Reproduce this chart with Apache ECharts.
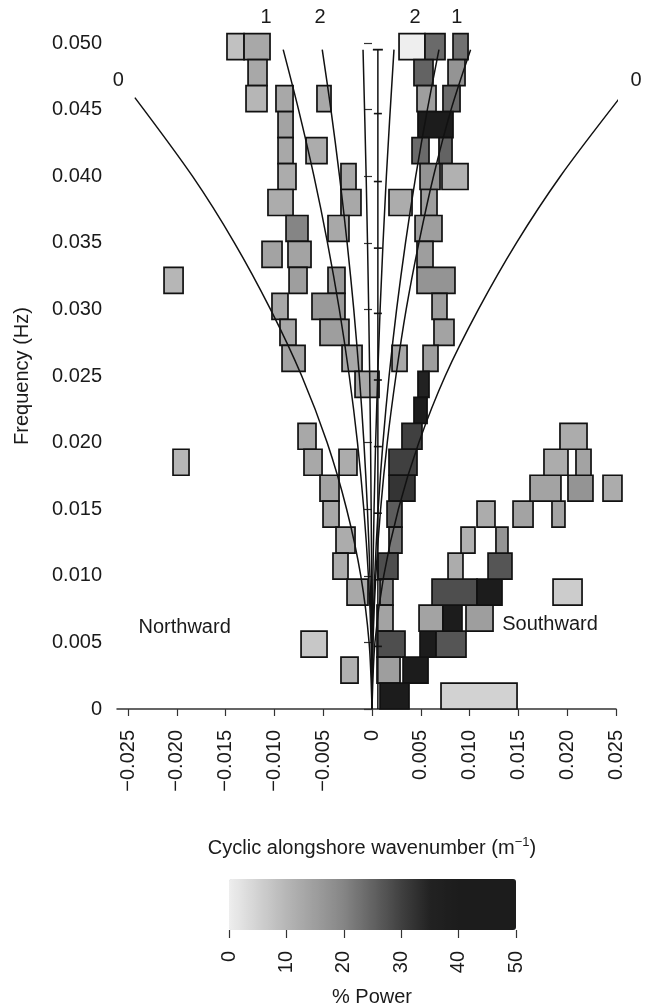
<!DOCTYPE html>
<html>
<head>
<meta charset="utf-8">
<script src="https://cdn.jsdelivr.net/npm/echarts@6/dist/echarts.min.js"></script>
<style>html,body{margin:0;padding:0;background:#fff;}#c{width:650px;height:1008px;}</style>
</head>
<body>
<div id="c"></div>
<script>
// ---------- DATA ----------
// Frequency bin width (Hz) of every spectral cell
const FREQ_BIN = 0.00195;
// cells: [wavenumber low, wavenumber high, frequency low, % power]
const cellsNegativeBranch = [
  [-0.01486, -0.01311, 0.04875, 8], [-0.01311, -0.01045, 0.04875, 13],
  [-0.0127, -0.01076, 0.0468, 13],
  [-0.01291, -0.01076, 0.04485, 10], [-0.00984, -0.00809, 0.04485, 13], [-0.00564, -0.0042, 0.04485, 13],
  [-0.00963, -0.00809, 0.0429, 14],
  [-0.00963, -0.00809, 0.04095, 13], [-0.00676, -0.00461, 0.04095, 12],
  [-0.00963, -0.00779, 0.039, 12], [-0.00318, -0.00164, 0.039, 13],
  [-0.01066, -0.00809, 0.03705, 12], [-0.00318, -0.00113, 0.03705, 13],
  [-0.00881, -0.00656, 0.0351, 20], [-0.00451, -0.00236, 0.0351, 13],
  [-0.01127, -0.00922, 0.03315, 14], [-0.00861, -0.00625, 0.03315, 14],
  [-0.0085, -0.00666, 0.0312, 15], [-0.00451, -0.00277, 0.0312, 16],
  [-0.01025, -0.00861, 0.02925, 13], [-0.00615, -0.00277, 0.02925, 16],
  [-0.00943, -0.00779, 0.0273, 13], [-0.00533, -0.00236, 0.0273, 15],
  [-0.00922, -0.00686, 0.02535, 14], [-0.00307, -0.00102, 0.02535, 13],
  [-0.00174, 0.00072, 0.0234, 13],
  [-0.00758, -0.00574, 0.0195, 13],
  [-0.00697, -0.00512, 0.01755, 13], [-0.00338, -0.00154, 0.01755, 12],
  [-0.00533, -0.00338, 0.0156, 14],
  [-0.00502, -0.00338, 0.01365, 13],
  [-0.00369, -0.00174, 0.0117, 12],
  [-0.004, -0.00246, 0.00975, 12],
  [-0.00256, -0.00041, 0.0078, 13],
  [-0.00318, -0.00143, 0.00195, 11]
];
const cellsPositiveBranch = [
  [0.00277, 0.00543, 0.04875, 0], [0.00543, 0.00748, 0.04875, 24], [0.0083, 0.00984, 0.04875, 23],
  [0.0043, 0.00625, 0.0468, 25], [0.00779, 0.00953, 0.0468, 17],
  [0.00461, 0.00656, 0.04485, 15], [0.00727, 0.00902, 0.04485, 24],
  [0.00471, 0.0083, 0.0429, 45],
  [0.0041, 0.00584, 0.04095, 24], [0.00686, 0.0082, 0.04095, 25],
  [0.00492, 0.00697, 0.039, 17], [0.00717, 0.00984, 0.039, 11],
  [0.00174, 0.0041, 0.03705, 12], [0.00502, 0.00666, 0.03705, 15],
  [0.00441, 0.00717, 0.0351, 15],
  [0.00461, 0.00625, 0.03315, 15],
  [0.00461, 0.0085, 0.0312, 17],
  [0.00615, 0.00768, 0.02925, 15],
  [0.00635, 0.0084, 0.0273, 14],
  [0.00205, 0.00359, 0.02535, 13], [0.00523, 0.00676, 0.02535, 15],
  [0.00471, 0.00584, 0.0234, 35],
  [0.0043, 0.00564, 0.02145, 45],
  [0.00307, 0.00512, 0.0195, 30],
  [0.00174, 0.00461, 0.01755, 30],
  [0.00174, 0.0044, 0.0156, 32],
  [0.00154, 0.00307, 0.01365, 26],
  [0.00174, 0.00307, 0.0117, 22],
  [0.00061, 0.00266, 0.00975, 28],
  [0.00082, 0.00215, 0.0078, 20],
  [0.00051, 0.00215, 0.00585, 14],
  [0.00051, 0.00338, 0.0039, 28],
  [0.00051, 0.00287, 0.00195, 15], [0.00318, 0.00574, 0.00195, 45],
  [0.00082, 0.00379, 0, 45]
];
const cellsSouthwardBand = [
  [0.00707, 0.01486, 0, 5],
  [0.00492, 0.00656, 0.0039, 45], [0.00656, 0.00963, 0.0039, 27],
  [0.00482, 0.00727, 0.00585, 14], [0.00727, 0.00922, 0.00585, 45], [0.00963, 0.0124, 0.00585, 15],
  [0.00615, 0.01076, 0.0078, 28], [0.01076, 0.01332, 0.0078, 42],
  [0.00779, 0.00932, 0.00975, 12], [0.01189, 0.01434, 0.00975, 27],
  [0.00912, 0.01055, 0.0117, 11], [0.0127, 0.01393, 0.0117, 17],
  [0.01076, 0.0126, 0.01365, 12], [0.01445, 0.0165, 0.01365, 14], [0.01844, 0.01977, 0.01365, 14],
  [0.01619, 0.01936, 0.0156, 14], [0.02008, 0.02264, 0.0156, 17], [0.02367, 0.02561, 0.0156, 12],
  [0.01762, 0.02008, 0.01755, 12], [0.0209, 0.02244, 0.01755, 14],
  [0.01926, 0.02203, 0.0195, 12]
];
const cellsIsolated = [
  [-0.02131, -0.01936, 0.0312, 10],
  [-0.02039, -0.01875, 0.01755, 10],
  [-0.00727, -0.00461, 0.0039, 7],
  [0.01855, 0.02152, 0.0078, 6]
];

// dispersion curves: [wavenumber, frequency]
const mode0North = [[0,0],[-0.0003,0.005],[-0.00115,0.01],[-0.0026,0.015],[-0.0046,0.02],[-0.0072,0.025],[-0.0104,0.03],[-0.0141,0.035],[-0.0184,0.04],[-0.0243,0.0459]];
const mode0South = [[0,0],[0.0003,0.005],[0.0012,0.01],[0.0027,0.015],[0.0048,0.02],[0.0075,0.025],[0.0109,0.03],[0.0148,0.035],[0.0193,0.04],[0.0253,0.0458]];
const mode1North = [[0,0],[-0.00009,0.005],[-0.00037,0.01],[-0.00084,0.015],[-0.00149,0.02],[-0.00233,0.025],[-0.00335,0.03],[-0.00456,0.035],[-0.00595,0.04],[-0.00753,0.045],[-0.0091,0.0495]];
const mode1South = [[0,0],[0.0001,0.005],[0.00039,0.01],[0.00088,0.015],[0.00156,0.02],[0.00245,0.025],[0.0035,0.03],[0.0048,0.035],[0.0063,0.04],[0.0081,0.045],[0.0101,0.0495]];
const mode2North = [[0,0],[-0.00005,0.005],[-0.00021,0.01],[-0.00047,0.015],[-0.00083,0.02],[-0.0013,0.025],[-0.00187,0.03],[-0.00255,0.035],[-0.00333,0.04],[-0.00421,0.045],[-0.0051,0.0495]];
const mode2South = [[0,0],[0.00007,0.005],[0.00028,0.01],[0.00063,0.015],[0.00112,0.02],[0.00175,0.025],[0.00252,0.03],[0.00343,0.035],[0.00448,0.04],[0.00567,0.045],[0.00686,0.0495]];
const innerNorth = [[0,0],[-0.00004,0.01],[-0.00015,0.02],[-0.00034,0.03],[-0.0006,0.04],[-0.00092,0.0495]];
const innerSouth = [[0,0],[0.00009,0.01],[0.00037,0.02],[0.00083,0.03],[0.00147,0.04],[0.00225,0.0495]];
// resolution bar
const barK = 0.0006;
const barTop = 0.0495;
const barTicks = [0.0447, 0.0396, 0.0346, 0.0297, 0.0247, 0.0197, 0.0147, 0.0097, 0.0047];

// annotations
const annoText = ['0', '0', '1', '2', '2', '1', 'Northward', 'Southward'];
const annoK = [-0.026, 0.02705, -0.01086, -0.00533, 0.0044, 0.0087, -0.0192, 0.01824];
const annoF = [0.0472, 0.0472, 0.0519, 0.0519, 0.0519, 0.0519, 0.00615, 0.00635];

// axis ticks
const xTicks = [-0.025, -0.02, -0.015, -0.01, -0.005, 0, 0.005, 0.01, 0.015, 0.02, 0.025];

// ---------- CHART ----------
const FONT = "'Liberation Sans', Arial, Helvetica, sans-serif";
const TXT = '#1a1a1a';
const chart = echarts.init(document.getElementById('c'), null, {renderer: 'canvas'});

const allCells = [].concat(cellsNegativeBranch, cellsPositiveBranch, cellsSouthwardBand, cellsIsolated);

function cellRender(params, api) {
  const a = api.coord([api.value(0), api.value(2) + FREQ_BIN]);
  const b = api.coord([api.value(1), api.value(2)]);
  return {
    type: 'rect',
    shape: {x: a[0], y: a[1], width: b[0] - a[0], height: b[1] - a[1]},
    style: {fill: api.visual('color'), stroke: '#111', lineWidth: 1.7}
  };
}

function curve(data) {
  return {
    type: 'line', data: data, xAxisIndex: 0, yAxisIndex: 0, showSymbol: false, smooth: 0.3,
    lineStyle: {color: '#111', width: 1.5}, z: 5, silent: true, clip: false
  };
}

const fmtX = v => {
  if (Math.abs(v) < 1e-9) return '0';
  return v < 0 ? '\u2212' + Math.abs(v).toFixed(3) : v.toFixed(3);
};

const option = {
  backgroundColor: '#fff',
  animation: false,
  textStyle: {fontFamily: FONT},
  grid: [
    {left: 117, right: 34, top: 43, height: 666},
    {left: 229, width: 287, top: 879, height: 51}
  ],
  xAxis: [
    {
      type: 'value', gridIndex: 0, min: -0.02613, max: 0.025,
      splitLine: {show: false},
      axisLine: {show: true, onZero: false, lineStyle: {color: '#333', width: 1.5}},
      axisTick: {show: true, length: 7, customValues: xTicks, lineStyle: {color: '#333', width: 1.2}},
      axisLabel: {customValues: xTicks, rotate: 90, margin: 21, fontSize: 20, color: TXT, fontFamily: FONT, formatter: fmtX}
    },
    {
      type: 'value', gridIndex: 1, min: 0, max: 50, interval: 10,
      splitLine: {show: false},
      axisLine: {show: false},
      axisTick: {show: true, length: 8, lineStyle: {color: '#333', width: 1.2}},
      axisLabel: {rotate: 90, margin: 21, fontSize: 20, color: TXT, fontFamily: FONT}
    }
  ],
  yAxis: [
    {
      type: 'value', gridIndex: 0, min: 0, max: 0.05, interval: 0.005, offset: -8,
      splitLine: {show: false},
      axisLine: {show: false},
      axisTick: {show: true, length: 8, lineStyle: {color: '#333', width: 1.2}},
      axisLabel: {margin: 23, fontSize: 20, color: TXT, fontFamily: FONT,
        formatter: v => (v === 0 ? '0' : v.toFixed(3))}
    },
    {type: 'value', gridIndex: 1, min: 0, max: 1, show: false}
  ],
  visualMap: {
    type: 'continuous', seriesIndex: 0, dimension: 3, min: 0, max: 50,
    orient: 'horizontal', left: 229, top: 879, padding: 0,
    itemWidth: 51, itemHeight: 287, calculable: false, hoverLink: false, text: null,
    inRange: {color: ['#eeeeee', '#d2d2d2', '#b6b6b6', '#9e9e9e', '#858585', '#636363', '#404040', '#222222', '#1c1c1c', '#1c1c1c', '#1c1c1c']}
  },
  series: [
    {
      type: 'custom', xAxisIndex: 0, yAxisIndex: 0, data: allCells, renderItem: cellRender,
      encode: {x: [0, 1], y: 2}, clip: false, z: 2, silent: true
    },
    curve(mode0North), curve(mode0South), curve(mode1North), curve(mode1South),
    curve(mode2North), curve(mode2South), curve(innerNorth), curve(innerSouth),
    {
      type: 'line', data: [[barK, 0], [barK, barTop]], showSymbol: false,
      lineStyle: {color: '#111', width: 1.5}, z: 6, silent: true
    },
    {
      type: 'scatter', data: barTicks.map(f => [barK, f]), symbol: 'rect', symbolSize: [8, 1.6],
      itemStyle: {color: '#111', opacity: 1}, z: 7, silent: true
    },
    {
      type: 'scatter', data: [[barK, barTop]], symbol: 'rect', symbolSize: [10, 1.8],
      itemStyle: {color: '#111', opacity: 1}, z: 7, silent: true
    },
    {
      type: 'scatter', clip: false, silent: true, symbolSize: 0, z: 8,
      itemStyle: {opacity: 1},
      data: annoText.map((t, i) => ({value: [annoK[i], annoF[i]], name: t})),
      label: {show: true, position: 'inside', formatter: p => p.name, fontSize: 20, color: TXT, opacity: 1, fontFamily: FONT}
    }
  ],
  graphic: [
    {type: 'text', x: 22, y: 376, rotation: Math.PI / 2,
      style: {text: 'Frequency (Hz)', font: '20px ' + FONT, fill: TXT, textAlign: 'center', textVerticalAlign: 'middle'}},
    {type: 'text', x: 372, y: 848,
      style: {
        text: '{n|Cyclic alongshore wavenumber (m}{s|\u22121}{n|)}',
        rich: {
          n: {fontSize: 20, fontFamily: FONT, fill: TXT, color: TXT},
          s: {fontSize: 13, fontFamily: FONT, fill: TXT, color: TXT, padding: [0, 0, 12, 0]}
        },
        textAlign: 'center', textVerticalAlign: 'middle'
      }},
    {type: 'text', x: 372, y: 997,
      style: {text: '% Power', font: '20px ' + FONT, fill: TXT, textAlign: 'center', textVerticalAlign: 'middle'}}
  ]
};
chart.setOption(option);
</script>
</body>
</html>
